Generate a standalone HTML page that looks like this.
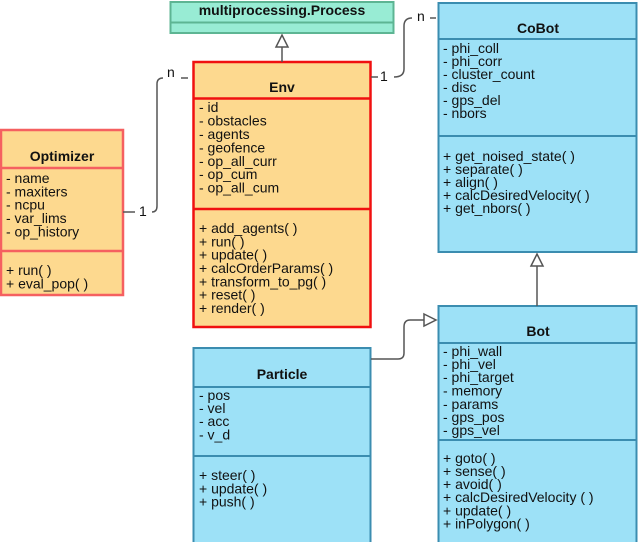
<!DOCTYPE html>
<html><head><meta charset="utf-8"><style>
html,body{margin:0;padding:0;background:#fff;}
svg text{font-family:"Liberation Sans",sans-serif;font-size:14px;fill:#111;}
.b{font-weight:bold;}
</style></head><body>
<svg width="640" height="542" viewBox="0 0 640 542" xmlns="http://www.w3.org/2000/svg">
<rect x="170.5" y="2" width="223" height="31" fill="#98ecd4" stroke="#5db593" stroke-width="2"/>
<line x1="170" y1="22.5" x2="394" y2="22.5" stroke="#5db593" stroke-width="2"/>
<text x="282" y="15" text-anchor="middle" class="b">multiprocessing.Process</text>
<rect x="193.5" y="62" width="177" height="265" fill="#fdd98f" stroke="#f01010" stroke-width="2.5"/>
<line x1="193" y1="98.5" x2="371" y2="98.5" stroke="#f01010" stroke-width="2.5"/>
<line x1="193" y1="209" x2="371" y2="209" stroke="#f01010" stroke-width="2.5"/>
<text x="282" y="92" text-anchor="middle" class="b">Env</text>
<text x="199" y="112">- id</text><text x="199" y="125.5">- obstacles</text><text x="199" y="139">- agents</text><text x="199" y="152.5">- geofence</text><text x="199" y="166">- op_all_curr</text><text x="199" y="179">- op_cum</text><text x="199" y="192.5">- op_all_cum</text>
<text x="199" y="233">+ add_agents( )</text><text x="199" y="246.5">+ run( )</text><text x="199" y="259.5">+ update( )</text><text x="199" y="273">+ calcOrderParams( )</text><text x="199" y="286.5">+ transform_to_pg( )</text><text x="199" y="299.5">+ reset( )</text><text x="199" y="313">+ render( )</text>
<rect x="1" y="130" width="122" height="165" fill="#fdd98f" stroke="#f56060" stroke-width="2.5"/>
<line x1="0" y1="168" x2="123" y2="168" stroke="#f56060" stroke-width="2.5"/>
<line x1="0" y1="251" x2="123" y2="251" stroke="#f56060" stroke-width="2.5"/>
<text x="62" y="161" text-anchor="middle" class="b">Optimizer</text>
<text x="6" y="183">- name</text><text x="6" y="196.5">- maxiters</text><text x="6" y="209.5">- ncpu</text><text x="6" y="223">- var_lims</text><text x="6" y="236.5">- op_history</text>
<text x="6" y="275">+ run( )</text><text x="6" y="288.5">+ eval_pop( )</text>
<rect x="438.5" y="3" width="198" height="249" fill="#9de1f7" stroke="#3b8db0" stroke-width="2"/>
<line x1="438" y1="39" x2="637" y2="39" stroke="#3b8db0" stroke-width="2"/>
<line x1="438" y1="136" x2="637" y2="136" stroke="#3b8db0" stroke-width="2"/>
<text x="538" y="33" text-anchor="middle" class="b">CoBot</text>
<text x="443" y="53">- phi_coll</text><text x="443" y="66">- phi_corr</text><text x="443" y="79">- cluster_count</text><text x="443" y="92">- disc</text><text x="443" y="105">- gps_del</text><text x="443" y="118">- nbors</text>
<text x="443" y="161">+ get_noised_state( )</text><text x="443" y="174">+ separate( )</text><text x="443" y="187">+ align( )</text><text x="443" y="200">+ calcDesiredVelocity( )</text><text x="443" y="213">+ get_nbors( )</text>
<rect x="438.5" y="306" width="198" height="240" fill="#9de1f7" stroke="#3b8db0" stroke-width="2"/>
<line x1="438" y1="343" x2="637" y2="343" stroke="#3b8db0" stroke-width="2"/>
<line x1="438" y1="440" x2="637" y2="440" stroke="#3b8db0" stroke-width="2"/>
<text x="538" y="336" text-anchor="middle" class="b">Bot</text>
<text x="443" y="356">- phi_wall</text><text x="443" y="369">- phi_vel</text><text x="443" y="382">- phi_target</text><text x="443" y="395.5">- memory</text><text x="443" y="409">- params</text><text x="443" y="422">- gps_pos</text><text x="443" y="435">- gps_vel</text>
<text x="443" y="463">+ goto( )</text><text x="443" y="476">+ sense( )</text><text x="443" y="489">+ avoid( )</text><text x="443" y="502">+ calcDesiredVelocity ( )</text><text x="443" y="515.5">+ update( )</text><text x="443" y="528.5">+ inPolygon( )</text>
<rect x="193.5" y="348" width="177" height="198" fill="#9de1f7" stroke="#3b8db0" stroke-width="2"/>
<line x1="193" y1="387" x2="371" y2="387" stroke="#3b8db0" stroke-width="2"/>
<line x1="193" y1="456" x2="371" y2="456" stroke="#3b8db0" stroke-width="2"/>
<text x="282" y="379" text-anchor="middle" class="b">Particle</text>
<text x="199" y="400">- pos</text><text x="199" y="413">- vel</text><text x="199" y="426">- acc</text><text x="199" y="439.5">- v_d</text>
<text x="199" y="480">+ steer( )</text><text x="199" y="493.5">+ update( )</text><text x="199" y="506.5">+ push( )</text>
<g fill="none" stroke="#555" stroke-width="1.5">
<line x1="282" y1="62" x2="282" y2="47"/>
<path d="M276 47 L282 35 L288 47 Z" fill="#fff"/>
<line x1="537" y1="306" x2="537" y2="266"/>
<path d="M531 266 L537 254 L543 266 Z" fill="#fff"/>
<path d="M123 212 L135 212"/>
<path d="M152 212 Q157 212 157 206 L157 84 Q157 78 163 78"/>
<path d="M181 78 L188 78"/>
<path d="M371 77 L378 77"/>
<path d="M394 77 Q404 77 404 69 L404 26 Q404 18 412 18"/>
<path d="M430 18 L436 18"/>
<path d="M371 359 L398 359 Q404 359 404 353 L404 327 Q404 320 410 320 L424 320"/>
<path d="M424 314 L436 320 L424 326 Z" fill="#fff"/>
</g>
<text x="139" y="216">1</text>
<text x="167" y="77">n</text>
<text x="380" y="81">1</text>
<text x="417" y="21">n</text>
</svg>
</body></html>
